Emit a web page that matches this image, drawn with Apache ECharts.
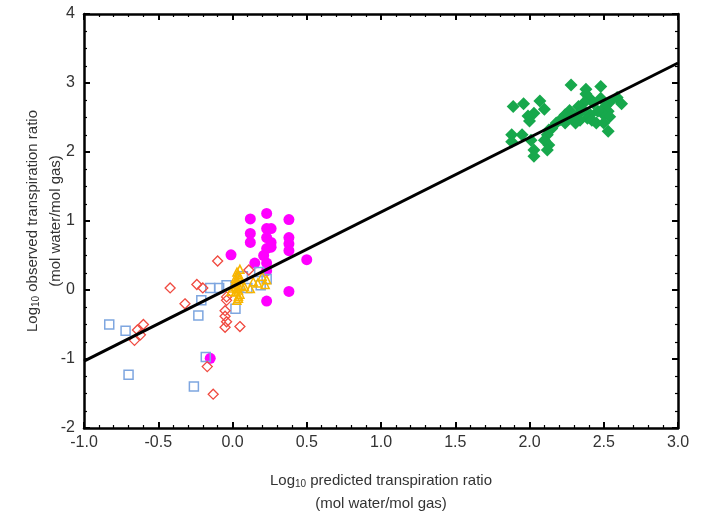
<!DOCTYPE html>
<html lang="en">
<head>
    <meta charset="UTF-8">
    <title>Transpiration ratio</title>
    <script src="https://cdn.jsdelivr.net/npm/echarts@6/dist/echarts.min.js"></script>
    <style>
        html, body { margin: 0; padding: 0; background: #fff; }
        #chart { width: 702px; height: 513px; }
    </style>
</head>
<body>
<div id="chart"></div>
<script>
    // log10 predicted (x) vs log10 observed (y)
    var blueX = [-0.83, -0.72, -0.70, -0.26, -0.18, -0.23, -0.21, -0.15, -0.09, -0.04, 0.02, 0.07, 0.10, 0.18, 0.19, 0.23];
    var blueY = [-0.50, -0.59, -1.23, -1.40, -0.97, -0.37, -0.15, 0.03, 0.03, 0.07, -0.27, 0.20, 0.03, 0.26, 0.07, 0.16];

    var redX = [-0.10, -0.42, -0.24, -0.20, -0.32, -0.04, -0.05, -0.05, -0.04, -0.05, 0.05, -0.60, -0.64, -0.62, -0.66, -0.17, -0.13, 0.11, -0.04];
    var redY = [0.42, 0.03, 0.08, 0.03, -0.20, -0.15, -0.30, -0.38, -0.46, -0.54, -0.53, -0.50, -0.58, -0.65, -0.73, -1.11, -1.51, 0.29, -0.10];

    var yellowX = [0.02, 0.03, 0.04, 0.03, 0.04, 0.05, 0.04, 0.05, 0.04, 0.02, 0.01, 0.03, 0.06, 0.05, 0.03, 0.12, 0.17, 0.23, 0.22, 0.02, 0.04, 0.00, 0.03, 0.14, 0.20, 0.08, -0.01, 0.05];
    var yellowY = [0.05, 0.12, 0.20, 0.26, 0.00, -0.06, -0.12, 0.15, 0.22, -0.03, 0.08, 0.02, 0.07, 0.30, -0.15, 0.02, 0.10, 0.15, 0.08, 0.17, -0.09, 0.03, 0.10, 0.12, 0.20, 0.05, -0.02, 0.18];

    var magentaX = [0.12, 0.23, 0.38, 0.12, 0.12, 0.23, 0.26, 0.23, 0.26, 0.38, 0.38, 0.38, 0.23, 0.26, -0.01, 0.21, 0.15, 0.23, 0.50, 0.23, 0.38, 0.23, -0.15];
    var magentaY = [1.03, 1.11, 1.02, 0.82, 0.69, 0.89, 0.89, 0.76, 0.69, 0.76, 0.67, 0.57, 0.60, 0.62, 0.51, 0.50, 0.39, 0.39, 0.44, 0.28, -0.02, -0.16, -0.99];

    var greenX = [2.28, 2.48, 2.38, 2.38, 2.07, 1.89, 1.96, 2.10, 2.40, 2.48, 2.59, 2.62, 2.54, 2.43, 2.37, 2.33, 2.27, 2.24, 2.21, 2.03, 1.99, 2.00,
        2.51, 2.53, 2.50, 2.46, 2.41, 2.39, 2.34, 2.30, 2.24, 2.18, 2.15, 2.13, 2.12, 2.10, 2.13, 2.12, 2.03, 2.03, 1.88, 1.95, 1.88, 2.01,
        2.53, 2.42, 2.54, 2.33, 2.36, 2.27, 2.31, 2.45, 2.50];
    var greenY = [2.97, 2.95, 2.91, 2.84, 2.74, 2.66, 2.70, 2.62, 2.79, 2.78, 2.79, 2.70, 2.72, 2.71, 2.72, 2.66, 2.60, 2.54, 2.47, 2.56, 2.52, 2.45,
        2.66, 2.59, 2.54, 2.59, 2.54, 2.49, 2.46, 2.46, 2.42, 2.42, 2.34, 2.32, 2.25, 2.17, 2.10, 2.03, 2.03, 1.94, 2.25, 2.25, 2.15, 2.17,
        2.30, 2.46, 2.51, 2.55, 2.61, 2.51, 2.42, 2.42, 2.42];

    // fitted line end points
    var lineX = [-1.0, 3.0];
    var lineY = [-1.03, 3.29];

    var xTicks = ['-1.0', '-0.5', '0.0', '0.5', '1.0', '1.5', '2.0', '2.5', '3.0'];

    function pairs(xs, ys) {
        var out = [];
        for (var i = 0; i < xs.length; i++) {
            out.push([xs[i], ys[i]]);
        }
        return out;
    }

    var font = 'Liberation Sans, Arial, sans-serif';
    var nameRich = {
        a: { fontSize: 15, color: '#333', fontFamily: font, lineHeight: 23 },
        s: { fontSize: 10, color: '#333', fontFamily: font, lineHeight: 23, padding: [8, 0, 0, 0] }
    };

    var frameTick = { show: true, inside: true, length: 6, lineStyle: { color: '#000', width: 2 } };
    var frameLine = { show: true, onZero: false, lineStyle: { color: '#000', width: 2.5 } };
    var minorX = { show: true, splitNumber: 5, length: 3, lineStyle: { color: '#000', width: 1.2 } };
    var minorY = { show: true, splitNumber: 4, length: 3, lineStyle: { color: '#000', width: 1.2 } };

    var myChart = echarts.init(document.getElementById('chart'));
    var option = {
        animation: false,
        backgroundColor: '#fff',
        grid: { left: 84, right: 24, top: 14, bottom: 85, outerBoundsMode: 'none' },
        xAxis: [
            {
                type: 'value', min: -1, max: 3, interval: 0.5,
                axisLine: frameLine,
                axisTick: frameTick,
                minorTick: minorX,
                splitLine: { show: false },
                axisLabel: {
                    margin: 7, fontSize: 16, color: '#333', fontFamily: font,
                    formatter: function (v) { return xTicks[Math.round((v + 1) / 0.5)]; }
                },
                name: '{a|Log}{s|10}{a| predicted transpiration ratio}\n{a|(mol water/mol gas)}',
                nameLocation: 'middle',
                nameGap: 41,
                nameMoveOverlap: false,
                nameTextStyle: { rich: nameRich, align: 'center' }
            },
            {
                type: 'value', min: -1, max: 3, interval: 0.5, position: 'top',
                axisLine: frameLine,
                axisTick: frameTick,
                minorTick: minorX,
                splitLine: { show: false },
                axisLabel: { show: false }
            }
        ],
        yAxis: [
            {
                type: 'value', min: -2, max: 4, interval: 1,
                axisLine: frameLine,
                axisTick: frameTick,
                minorTick: minorY,
                splitLine: { show: false },
                axisLabel: { margin: 9, fontSize: 16, color: '#333', fontFamily: font },
                name: '{a|Log}{s|10}{a| observed transpiration ratio}\n{a|(mol water/mol gas)}',
                nameLocation: 'middle',
                nameRotate: 90,
                nameGap: 17,
                nameMoveOverlap: false,
                nameTextStyle: { rich: nameRich, align: 'center' }
            },
            {
                type: 'value', min: -2, max: 4, interval: 1, position: 'right',
                axisLine: frameLine,
                axisTick: frameTick,
                minorTick: minorY,
                splitLine: { show: false },
                axisLabel: { show: false }
            }
        ],
        series: [
            {
                name: 'green', type: 'scatter', symbol: 'diamond', symbolSize: 13,
                itemStyle: { color: '#17a84c', opacity: 1 },
                data: pairs(greenX, greenY)
            },
            {
                name: 'magenta', type: 'scatter', symbol: 'circle', symbolSize: 11,
                itemStyle: { color: '#ff00ff', opacity: 1 },
                data: pairs(magentaX, magentaY)
            },
            {
                name: 'blue', type: 'scatter', symbol: 'rect', symbolSize: 9,
                itemStyle: { color: 'rgba(0,0,0,0)', borderColor: '#7ea6e0', borderWidth: 1.5, opacity: 1 },
                data: pairs(blueX, blueY)
            },
            {
                name: 'red', type: 'scatter', symbol: 'diamond', symbolSize: 10,
                itemStyle: { color: 'rgba(0,0,0,0)', borderColor: '#f04a40', borderWidth: 1.3, opacity: 1 },
                data: pairs(redX, redY)
            },
            {
                name: 'yellow', type: 'scatter', symbol: 'triangle', symbolSize: 8,
                itemStyle: { color: 'rgba(0,0,0,0)', borderColor: '#f7b500', borderWidth: 1.5, opacity: 1 },
                data: pairs(yellowX, yellowY)
            },
            {
                name: 'fit', type: 'line', symbol: 'none', z: 5,
                lineStyle: { color: '#000', width: 3 },
                data: pairs(lineX, lineY)
            }
        ]
    };

    myChart.setOption(option);
</script>
</body>
</html>
